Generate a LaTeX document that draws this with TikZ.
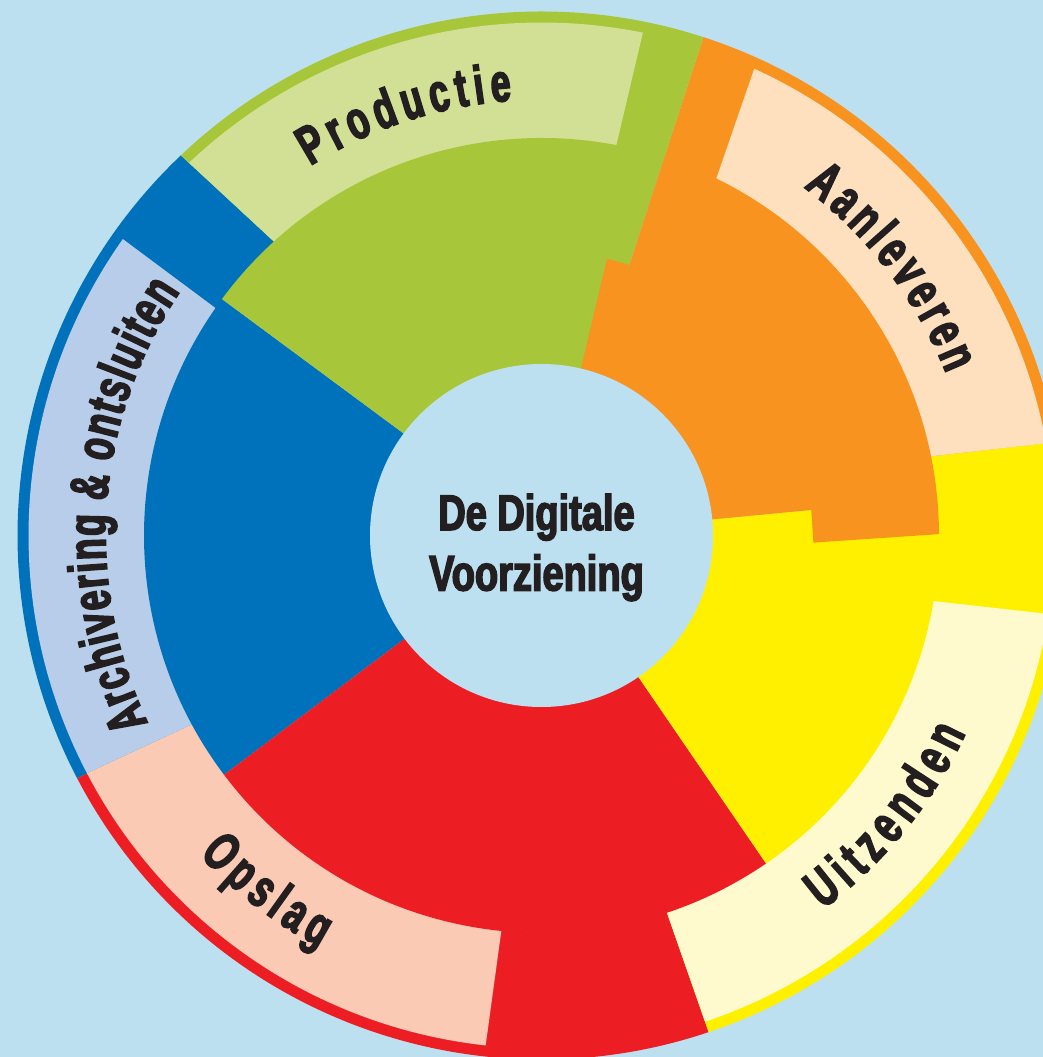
\documentclass[tikz,border=0pt]{standalone}
\usepackage{fontspec}
\usetikzlibrary{decorations.text}
\newfontfamily\dvfont{Liberation Sans}[FakeStretch=0.76,FakeBold=3]
\newfontfamily\dvlabfont{Liberation Sans}[FakeStretch=0.66,FakeBold=3]
\newcommand\dvtitle{\dvfont\bfseries\fontsize{50}{50}\selectfont}
\newcommand\dvlab{\dvlabfont\bfseries\fontsize{54}{54}\selectfont}
\definecolor{bg}{RGB}{189,224,240}
\definecolor{blueD}{RGB}{0,114,188}
\definecolor{blueL}{RGB}{184,205,233}
\definecolor{greenD}{RGB}{168,198,57}
\definecolor{greenL}{RGB}{210,224,149}
\definecolor{orangeD}{RGB}{247,147,30}
\definecolor{orangeL}{RGB}{254,223,190}
\definecolor{yellowD}{RGB}{255,240,0}
\definecolor{yellowL}{RGB}{255,250,205}
\definecolor{redD}{RGB}{237,29,36}
\definecolor{redL}{RGB}{251,202,181}
\definecolor{txt}{RGB}{35,31,32}
% annular piece: colour, a1 inner, a1 outer, a2 outer, a2 inner, r inner, r outer
\newcommand\dvpiece[7]{\fill[#1] (#2:#6pt) -- (#3:#7pt) arc[start angle=#3, end angle=#4, radius=#7pt] -- (#5:#6pt) arc[start angle=#5, end angle=#2, radius=#6pt] -- cycle;}
\newcommand\dvpie[3]{\fill[#1] (0,0) -- (#2:397.5pt) arc[start angle=#2, end angle=#3, radius=397.5pt] -- cycle;}
\tikzset{dvlabel/.style={decorate, decoration={text along path, text color=txt, text align={fit to path}, text={|\dvlab|#1}}}}
\begin{document}
\begin{tikzpicture}
\useasboundingbox (-541.5pt,-521.5pt) rectangle (501.5pt,535.5pt);
\clip (-541.5pt,-521.5pt) rectangle (501.5pt,535.5pt);
\fill[bg] (-541.5pt,-521.5pt) rectangle (501.5pt,535.5pt);
% outer sectors (dark, incl. thin rim)
\dvpiece{blueD}{132.3}{133.5}{207.6}{208.4}{397}{524}
\dvpiece{redD}{208.4}{207.6}{288.6}{288.4}{397}{524}
\dvpiece{yellowD}{-71.6}{-71.4}{10.3}{11.5}{397}{524}
\dvpiece{orangeD}{11.5}{10.3}{72}{72}{397}{524}
\dvpiece{greenD}{72}{72}{133.5}{132.3}{397}{524}
% light bands
\dvpiece{greenL}{79.15}{78.6}{133.4}{132.3}{397}{513}
\dvpiece{orangeL}{11.5}{10.35}{65.5}{63.9}{397}{513}
\dvpiece{yellowL}{-71.6}{-71.4}{-8.8}{-9.5}{397}{513}
\dvpiece{redL}{208.4}{207.6}{263.75}{264.2}{397}{513}
\dvpiece{blueL}{145.1}{144.7}{207.6}{208.4}{397}{513}
% inner sectors
\dvpie{blueD}{143.5}{217}
\dvpie{redD}{217}{304.4}
\dvpie{yellowD}{-55.6}{5.4}
\dvpie{greenD}{72}{143.5}
\fill[orangeD] (0,0) -- (76.7:284.5pt) -- (72:284.5pt) -- (72:397.5pt) arc[start angle=72, end angle=0.2, radius=397.5pt] -- (-1.5:272pt) -- (5.4:271pt) -- cycle;
% centre disc
\fill[bg] (0,0) circle[radius=171.5pt];
\node[font=\dvtitle, text=txt, anchor=base, inner sep=0pt] (title1) at (-5pt,5.5pt) {De Digitale};
\node[font=\dvtitle, text=txt, anchor=base, inner sep=0pt] (title2) at (-5pt,-55pt) {Voorziening};
% labels along the arcs
\path[dvlabel={Productie}] (122:436pt) arc[start angle=122, end angle=93.9, radius=436pt];
\path[dvlabel={Aanleveren}] (53:436pt) arc[start angle=53, end angle=21.8, radius=436pt];
\path[dvlabel={Archivering {\&} ontsluiten}] (205.5:436pt) arc[start angle=205.5, end angle=146, radius=436pt];
\path[dvlabel={Uitzenden}] (-53:468pt) arc[start angle=-53, end angle=-25, radius=468pt];
\path[dvlabel={Opslag}] (223:468pt) arc[start angle=223, end angle=241.7, radius=468pt];
\end{tikzpicture}
\end{document}
